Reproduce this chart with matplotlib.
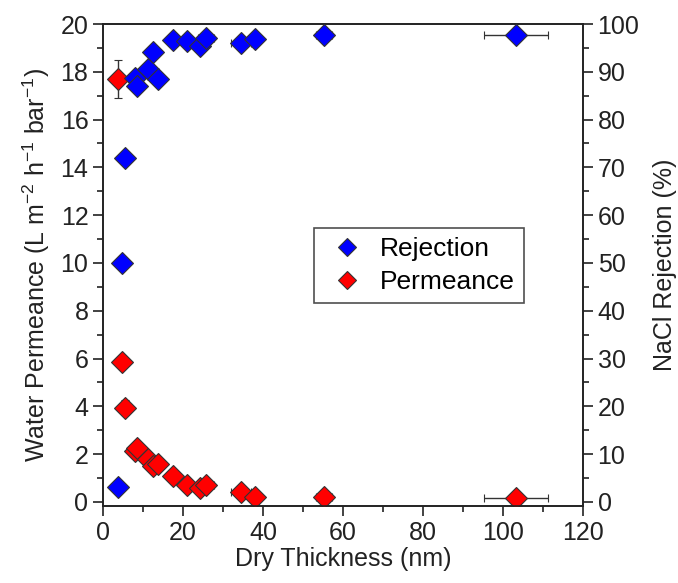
import matplotlib
matplotlib.use("Agg")
import matplotlib.pyplot as plt
from matplotlib.ticker import MultipleLocator
from matplotlib.lines import Line2D

plt.rcParams['font.family'] = ['Liberation Sans', 'DejaVu Sans']
plt.rcParams['mathtext.fontset'] = 'custom'
plt.rcParams['mathtext.rm'] = 'Liberation Sans'

# Data
thickness = [3.8, 4.7, 5.6, 8.1, 8.6, 11.3, 12.4, 13.7, 17.6, 20.9, 24.2, 25.7, 34.4, 37.9, 55.2, 103.2]
thickness_err = [0.3, 0.3, 0.6, 0.6, 0.6, 0.6, 1.0, 1.0, 0.6, 0.8, 1.5, 2.0, 2.5, 1.7, 2.0, 8.0]
rejection = [3.1, 50.0, 72.0, 88.8, 87.0, 90.6, 94.1, 88.6, 96.6, 96.5, 95.5, 97.1, 96.0, 96.8, 97.8, 97.7]
rejection_err = [0.3, 0.3, 0.4, 0.4, 0.4, 0.4, 0.4, 0.4, 0.3, 0.3, 0.3, 0.3, 0.3, 0.3, 0.3, 0.3]
permeance = [17.7, 5.87, 3.95, 2.15, 2.25, 1.79, 1.5, 1.59, 1.09, 0.71, 0.57, 0.71, 0.43, 0.22, 0.22, 0.17]
permeance_err = [0.8, 0.1, 0.3, 0.15, 0.15, 0.1, 0.1, 0.1, 0.08, 0.05, 0.05, 0.05, 0.05, 0.05, 0.05, 0.05]
series_labels = ['Rejection', 'Permeance']

fig = plt.figure(figsize=(6.78, 5.83), dpi=100)
ax = fig.add_axes([0.1519, 0.1321, 0.708, 0.8267])
ax2 = ax.twinx()

fs = 18
ecol = '#333333'

ax2.errorbar(thickness, rejection, xerr=thickness_err, yerr=rejection_err,
             fmt='D', color='#0000ff', markersize=11.5, markeredgecolor=ecol,
             markeredgewidth=0.8, ecolor='#333333', elinewidth=1.0, capsize=3,
             capthick=1.0, zorder=3)
ax.errorbar(thickness, permeance, xerr=thickness_err, yerr=permeance_err,
            fmt='D', color='#ff0000', markersize=11.5, markeredgecolor=ecol,
            markeredgewidth=0.8, ecolor='#333333', elinewidth=1.0, capsize=3,
            capthick=1.0, zorder=3)

ax.set_xlim(0, 120)
ax.set_ylim(-0.17, 20)
ax2.set_ylim(-0.85, 100)

ax.xaxis.set_major_locator(MultipleLocator(20))
ax.xaxis.set_minor_locator(MultipleLocator(10))
ax.yaxis.set_major_locator(MultipleLocator(2))
ax.yaxis.set_minor_locator(MultipleLocator(1))
ax2.yaxis.set_major_locator(MultipleLocator(10))
ax2.yaxis.set_minor_locator(MultipleLocator(5))

for a in (ax, ax2):
    a.tick_params(which='major', direction='out', length=7, width=1.2, labelsize=fs, colors='#222222')
    a.tick_params(which='minor', direction='out', length=4, width=1.2, colors='#222222')
    for s in a.spines.values():
        s.set_linewidth(1.2)
        s.set_color('#222222')

ax.set_xlabel('Dry Thickness (nm)', fontsize=fs, color='#222222', labelpad=2)
ax.set_ylabel('Water Permeance (L m$^{-2}$ h$^{-1}$ bar$^{-1}$)', fontsize=fs, color='#222222', labelpad=6)
ax2.set_ylabel('NaCl Rejection (%)', fontsize=fs, color='#222222', labelpad=10)

handles = [
    Line2D([], [], linestyle='none', marker='D', markersize=9, color='#0000ff',
           markeredgecolor=ecol, markeredgewidth=0.8),
    Line2D([], [], linestyle='none', marker='D', markersize=9, color='#ff0000',
           markeredgecolor=ecol, markeredgewidth=0.8),
]
leg = ax.legend(handles, series_labels, loc='upper left',
                bbox_to_anchor=((314 - 103) / 480, 1 - (228 - 24.5) / 482),
                borderaxespad=0,
                fontsize=19, frameon=True, fancybox=False, edgecolor='#222222',
                handletextpad=0.35, borderpad=0.35, labelspacing=0.35,
                handlelength=1.8)
leg.get_frame().set_linewidth(1.2)
leg.set_zorder(5)

fig.savefig('out.png', dpi=100)
